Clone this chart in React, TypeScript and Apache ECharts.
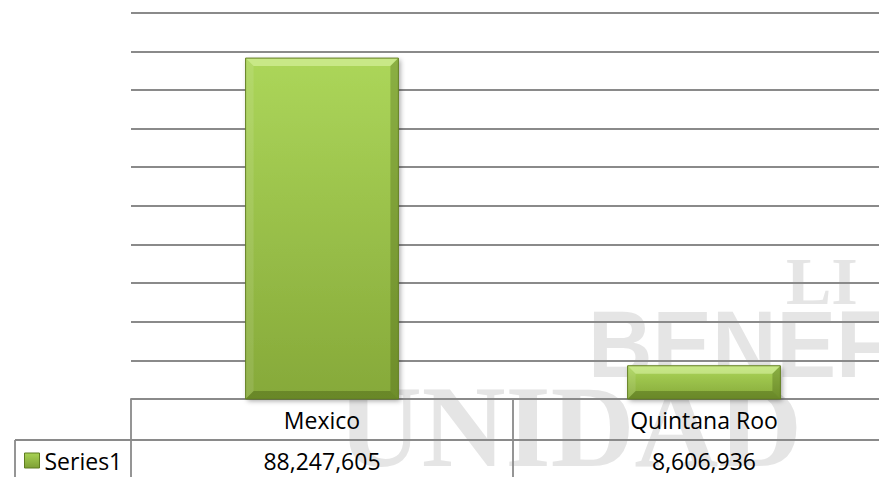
import React, { useEffect, useRef } from "react";
import * as echarts from "echarts";

// ---- data ----
const categories: string[] = ["Mexico", "Quintana Roo"];
const seriesName = "Series1";
const values: number[] = [88247605, 8606936];
const yMin = 0;
const yMax = 100000000;
const yInterval = 10000000;
const watermarkWords: string[] = ["LI", "BENEF", "UNIDAD"];

// ---- layout ----
const W = 879;
const H = 477;
const CHART_W = 920;
const GRID_LEFT = 131;
const GRID_TOP = 12.7;
const AXIS_Y = 399;
const GRID_WIDTH = 764;
const ROW_H = 41;
const LINE = "#8a8a8a";
const LW = 1.8;
const FONT = '"Open Sans", "Noto Sans", sans-serif';

const fmt = (v: number) => v.toLocaleString("en-US");

export default function App() {
  const ref = useRef<HTMLDivElement>(null);
  useEffect(() => {
    if (!ref.current) return;
    const chart = echarts.init(ref.current, null, { renderer: "svg" });
    const lg = echarts.graphic.LinearGradient;

    const renderItem = (params: any, api: any) => {
      const idx = api.value(0);
      const val = api.value(1);
      const top = api.coord([idx, val]);
      const base = api.coord([idx, 0]);
      const w = api.size([1, 0])[0] * 0.4;
      const x0 = top[0] - w / 2;
      const x1 = top[0] + w / 2;
      const y0 = top[1];
      const y1 = base[1];
      const h = y1 - y0;
      const b = Math.min(8, h / 3);
      return {
        type: "group",
        children: [
          {
            type: "rect",
            shape: { x: x0, y: y0, width: w, height: h },
            style: {
              fill: new lg(0, 0, 0, 1, [
                { offset: 0, color: "#acd65a" },
                { offset: 1, color: "#86a939" },
              ]),
              shadowBlur: 5,
              shadowOffsetX: 2,
              shadowOffsetY: 2,
              shadowColor: "rgba(0,0,0,0.35)",
            },
          },
          {
            type: "polygon",
            shape: { points: [[x0, y0], [x1, y0], [x1 - b, y0 + b], [x0 + b, y0 + b]] },
            style: { fill: "rgba(235,255,190,0.45)" },
          },
          {
            type: "polygon",
            shape: { points: [[x0, y0], [x0 + b, y0 + b], [x0 + b, y1 - b], [x0, y1]] },
            style: { fill: "rgba(255,255,255,0.10)" },
          },
          {
            type: "polygon",
            shape: { points: [[x1, y0], [x1, y1], [x1 - b, y1 - b], [x1 - b, y0 + b]] },
            style: { fill: "rgba(40,60,0,0.25)" },
          },
          {
            type: "polygon",
            shape: { points: [[x0, y1], [x1, y1], [x1 - b, y1 - b], [x0 + b, y1 - b]] },
            style: { fill: "rgba(40,60,0,0.30)" },
          },
          {
            type: "rect",
            shape: { x: x0, y: y0, width: w, height: h },
            style: { fill: "none", stroke: "#637f22", lineWidth: 1 },
          },
        ],
      };
    };

    const wmFill = "#e5e5e5";
    chart.setOption({
      animation: false,
      grid: { left: GRID_LEFT, top: GRID_TOP, width: GRID_WIDTH, height: AXIS_Y - GRID_TOP },
      legend: {
        left: 24,
        top: 449,
        padding: 0,
        itemWidth: 15,
        itemHeight: 15,
        selectedMode: false,
        data: [
          {
            name: seriesName,
            icon: "rect",
            itemStyle: {
              color: new lg(0, 0, 0, 1, [
                { offset: 0, color: "#a8d254" },
                { offset: 1, color: "#7ea035" },
              ]),
              borderColor: "#5f7d20",
              borderWidth: 1,
            },
          },
        ],
        textStyle: { fontFamily: FONT, fontSize: 23, color: "#000", lineHeight: 23 },
      },
      xAxis: {
        type: "category",
        data: categories,
        boundaryGap: true,
        axisLine: { show: true, lineStyle: { color: LINE, width: LW } },
        axisTick: { show: true, alignWithLabel: false, length: ROW_H * 2 + 4, lineStyle: { color: LINE, width: LW } },
        axisLabel: {
          margin: 0,
          interval: 0,
          formatter: (v: string, i: number) => `{c|${v}}\n{c|${fmt(values[i])}}`,
          rich: {
            c: { fontFamily: FONT, fontSize: 23, color: "#000", lineHeight: ROW_H },
          },
        },
        splitLine: { show: false },
      },
      yAxis: {
        type: "value",
        min: yMin,
        max: yMax,
        interval: yInterval,
        axisLabel: { show: false },
        axisLine: { show: false },
        axisTick: { show: false },
        splitLine: { show: true, lineStyle: { color: LINE, width: LW } },
      },
      graphic: [
        {
          type: "text",
          z: -10,
          x: 786,
          y: 281,
          style: { text: watermarkWords[0], font: 'bold 68px "Liberation Serif"', fill: wmFill, verticalAlign: "middle" },
        },
        {
          type: "text",
          z: -10,
          x: 588,
          y: 345,
          scaleX: 0.94,
          style: { text: watermarkWords[1], font: 'bold 95px "Liberation Sans"', fill: wmFill, verticalAlign: "middle" },
        },
        {
          type: "text",
          z: -10,
          x: 338,
          y: 427,
          style: { text: watermarkWords[2], font: 'bold 116px "Liberation Serif"', fill: wmFill, verticalAlign: "middle" },
        },
        {
          type: "line",
          shape: { x1: 15, y1: AXIS_Y + ROW_H, x2: CHART_W, y2: AXIS_Y + ROW_H },
          style: { stroke: LINE, lineWidth: LW },
        },
        {
          type: "line",
          shape: { x1: 15, y1: AXIS_Y + ROW_H, x2: 15, y2: H + 10 },
          style: { stroke: LINE, lineWidth: LW },
        },
      ],
      series: [
        {
          type: "custom",
          name: seriesName,
          renderItem,
          itemStyle: { color: "#94bf45" },
          data: values.map((v, i) => [i, v]),
          z: 3,
        },
      ],
    });
    return () => chart.dispose();
  }, []);
  return (
    <div style={{ position: "absolute", left: 0, top: 0, width: W, height: H, overflow: "hidden", background: "#fff" }}>
      <div ref={ref} style={{ width: CHART_W, height: H }} />
    </div>
  );
}
